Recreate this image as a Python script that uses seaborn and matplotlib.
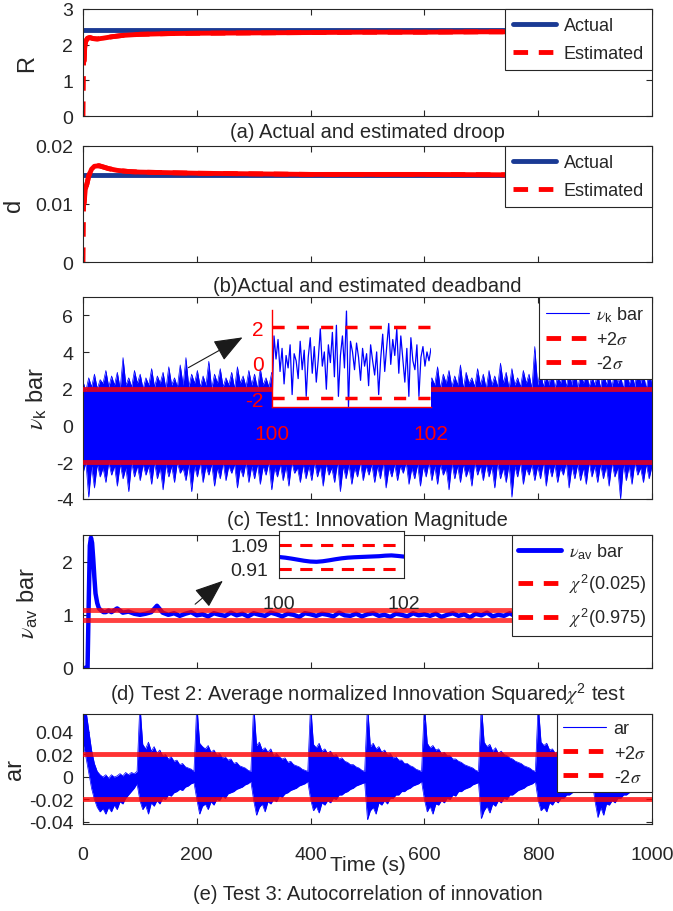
import numpy as np
import matplotlib
matplotlib.use("Agg")
import matplotlib.pyplot as plt
import seaborn as sns
from matplotlib.lines import Line2D

# ---------------- data ----------------
time_ticks = [0, 200, 400, 600, 800, 1000]

# (a) droop
R_actual = 2.4
R_time = [0, 0.5, 1, 2, 3, 5, 8, 12, 18, 25, 35, 50, 70, 100, 150, 200, 300, 400, 500, 600, 700, 800, 900, 1000]
R_est = [0, 0.8, 1.5, 1.55, 1.9, 2.1, 2.18, 2.2, 2.17, 2.16, 2.18, 2.22, 2.26, 2.29, 2.31, 2.32, 2.33, 2.34, 2.35, 2.35, 2.36, 2.36, 2.37, 2.37]

# (b) deadband
d_actual = 0.015
d_time = [0, 0.5, 1, 2, 4, 7, 10, 15, 20, 28, 35, 45, 60, 80, 100, 150, 200, 300, 400, 600, 800, 1000]
d_est = [0, 0.005, 0.0098, 0.0102, 0.0125, 0.0135, 0.0148, 0.016, 0.0165, 0.0166, 0.0164, 0.0161,
         0.0158, 0.0156, 0.0155, 0.0154, 0.0153, 0.0152, 0.0151, 0.0151, 0.015, 0.015]

# (c) innovation magnitude: upper / lower envelope of the dense signal
nu_upper = [2.4, 1.9, 2.6, 2.1, 2.8, 2.0, 2.5, 2.3, 3.0, 2.1, 2.7, 2.2, 2.9, 2.0, 3.7, 2.2, 2.6, 2.1, 3.0, 2.3,
            2.8, 2.0, 2.6, 2.2, 3.1, 2.1, 2.7, 2.3, 2.9, 2.0, 3.2, 2.2, 2.6, 2.1, 3.3, 2.2, 3.7, 2.1, 2.8, 2.3,
            3.0, 2.1, 2.7, 2.2, 3.5, 2.0, 2.8, 2.3, 3.1, 2.1, 2.6, 2.2, 2.9, 2.0, 3.2, 2.3, 2.7, 2.1, 3.0, 2.2,
            2.8, 2.0, 3.1, 2.2, 2.6, 2.1, 2.9, 2.3, 3.3, 2.0, 2.7, 2.2, 3.0, 2.1, 2.8, 2.3, 3.2, 2.0, 2.6, 2.2,
            3.0, 2.1, 2.8, 2.2, 3.1, 2.0, 2.7, 2.3, 2.9, 2.1, 3.2, 2.2, 2.6, 2.0, 3.0, 2.3, 2.8, 2.1, 3.1, 2.2,
            2.7, 2.0, 3.0, 2.2, 2.8, 2.1, 3.3, 2.3, 2.6, 2.0, 2.9, 2.2, 3.1, 2.1, 2.7, 2.3, 3.0, 2.0, 2.8, 2.2,
            2.9, 2.1, 2.6, 2.2, 3.2, 2.0, 2.8, 2.3, 3.0, 2.1, 2.7, 2.2, 3.3, 2.0, 2.9, 2.3, 2.6, 2.1, 3.1, 2.2,
            2.8, 2.0, 3.0, 2.2, 2.7, 2.1, 3.4, 2.3, 2.9, 2.0, 3.1, 2.2, 2.6, 2.1, 3.0, 2.3, 2.8, 2.0, 4.3, 2.2,
            3.0, 2.1, 2.8, 2.2, 3.2, 2.0, 2.7, 2.3, 3.1, 2.1, 2.9, 2.2, 3.3, 2.0, 2.8, 2.3, 3.0, 2.1, 2.7, 2.2,
            2.9, 2.0, 3.1, 2.2, 2.8, 2.1, 3.0, 2.3, 2.7, 2.0, 3.2, 2.2, 2.9, 2.1, 3.4, 2.3, 2.8, 2.0, 3.0, 2.2]
nu_lower = [-2.6, -2.0, -3.9, -2.2, -3.4, -2.1, -2.8, -2.3, -3.1, -2.0, -2.7, -2.2, -3.3, -2.1, -2.9, -2.3, -3.6, -2.0, -2.8, -2.2,
            -3.0, -2.1, -2.7, -2.2, -3.2, -2.0, -2.9, -2.3, -3.5, -2.1, -2.8, -2.2, -3.1, -2.0, -2.6, -2.3, -3.0, -2.1, -3.6, -2.2,
            -2.8, -2.0, -3.1, -2.2, -2.7, -2.1, -3.3, -2.3, -2.9, -2.0, -3.0, -2.2, -2.6, -2.1, -3.4, -2.3, -2.8, -2.0, -3.1, -2.2,
            -2.9, -2.1, -3.2, -2.2, -2.7, -2.0, -3.5, -2.3, -2.8, -2.1, -3.0, -2.2, -3.3, -2.0, -2.6, -2.3, -3.1, -2.1, -2.9, -2.2,
            -3.0, -2.0, -2.8, -2.2, -3.3, -2.1, -2.7, -2.3, -3.1, -2.0, -3.6, -2.2, -2.9, -2.1, -3.2, -2.3, -2.8, -2.0, -3.0, -2.2,
            -2.7, -2.1, -3.1, -2.2, -2.9, -2.0, -3.4, -2.3, -2.8, -2.1, -3.0, -2.2, -2.6, -2.0, -3.2, -2.3, -2.9, -2.1, -3.3, -2.2,
            -2.8, -2.0, -3.0, -2.2, -3.2, -2.1, -2.7, -2.3, -3.5, -2.0, -2.9, -2.2, -3.1, -2.1, -2.8, -2.3, -3.3, -2.0, -2.7, -2.2,
            -3.0, -2.1, -2.8, -2.2, -3.4, -2.0, -2.9, -2.3, -3.1, -2.1, -3.9, -2.2, -2.8, -2.0, -3.2, -2.3, -2.7, -2.1, -3.0, -2.2,
            -2.9, -2.0, -3.3, -2.2, -2.8, -2.1, -3.1, -2.3, -2.7, -2.0, -3.4, -2.2, -2.9, -2.1, -3.0, -2.3, -3.2, -2.0, -2.8, -2.2,
            -3.1, -2.1, -2.9, -2.2, -3.3, -2.0, -2.8, -2.3, -4.0, -2.1, -3.0, -2.2, -3.2, -2.0, -2.7, -2.3, -3.1, -2.1, -2.9, -2.2]
nu_sigma = [2, -2]
nu_zoom = [-2.3, 1.5, 0.2, 1.3, -0.5, 0.8, -1.2, 0.4, -0.3, 1.0, -1.8, 0.5, 0.1, -0.9, 1.2, -0.4, 0.7, -1.9, 0.3, 1.4,
           -0.6, 0.9, -1.1, 0.2, 1.9, -0.2, 0.6, -1.5, 1.0, 0.0, 1.7, -0.8, 2.1, -1.9, 0.4, 1.5, -0.3, 2.9, -2.5, 1.2,
           0.6, -0.4, 1.1, 0.3, -1.0, 0.8, -0.2, 0.5, -1.3, 1.0, 0.1, -0.7, 0.6, -1.8, 0.2, 1.6, -0.5, 0.9, 2.2, -0.1,
           1.3, 0.4, 1.9, -0.6, 1.5, 0.2, -1.1, 0.8, -1.9, 1.4, 0.1, -0.4, 1.0, -1.9, 0.3, 0.9, -0.2, 0.6, 0.1, 0.8]

# (d) averaged NIS
av_time = [0, 4, 8, 10, 12, 14, 16, 18, 20, 22, 25, 28, 32, 36, 40, 45] + list(range(50, 1001, 10))
av_value = [0, 0, 0, 1.2, 2.3, 2.45, 2.35, 2.05, 1.7, 1.4, 1.22, 1.12, 1.08, 1.05, 1.05, 1.08,
            1.05, 1.12, 1.04, 1.06, 1.02, 1.0, 1.02, 1.05, 1.17, 1.04,
            1.0, 1.03, 0.98, 1.02, 1.05, 0.99, 1.01, 0.97, 1.03, 1.0,
            0.98, 1.04, 0.99, 1.02, 0.97, 1.03, 1.0, 0.98, 1.04, 1.01,
            0.97, 1.02, 1.0, 0.96, 1.03, 1.01, 0.98, 1.02, 1.0, 0.97,
            1.04, 0.99, 0.98, 1.02, 0.97, 1.01, 1.03, 0.98, 1.0, 0.96,
            1.02, 1.0, 0.97, 1.03, 0.99, 1.01, 0.98, 1.02, 0.96, 1.0,
            1.03, 0.98, 1.01, 0.95, 1.02, 0.99, 1.04, 0.97, 1.0, 0.98,
            1.03, 0.97, 1.01, 0.99, 0.96, 1.02, 1.0, 0.97, 1.03, 0.99,
            1.01, 0.98, 1.02, 1.0, 0.97, 1.03, 0.99, 1.01, 0.98, 1.02,
            1.0, 0.97, 1.02, 0.99, 1.01, 1.0]
av_bounds = [1.09, 0.91]
av_zoom = [1.0, 0.995, 0.988, 0.98, 0.972, 0.966, 0.964, 0.968, 0.975, 0.983, 0.99,
           0.995, 0.998, 1.0, 1.002, 1.004, 1.006, 1.01, 1.012, 1.008, 1.003]

# (e) autocorrelation: envelope, 20 samples per 100 s run
ar_upper = [0.065, 0.060, 0.042, 0.024, 0.012, 0.005, 0.002, 0.000, 0.002, -0.001, 0.002, 0.000, 0.001, 0.003, 0.001, 0.004, 0.002, 0.004, 0.003, 0.005,
            0.065, 0.029, 0.025, 0.031, 0.023, 0.027, 0.021, 0.024, 0.019, 0.020, 0.016, 0.018, 0.014, 0.015, 0.011, 0.012, 0.009, 0.008, 0.007, 0.005,
            0.065, 0.030, 0.027, 0.025, 0.028, 0.022, 0.024, 0.020, 0.021, 0.017, 0.018, 0.015, 0.016, 0.012, 0.013, 0.010, 0.009, 0.008, 0.006, 0.005,
            0.065, 0.028, 0.031, 0.024, 0.026, 0.022, 0.025, 0.019, 0.021, 0.018, 0.016, 0.017, 0.013, 0.014, 0.011, 0.010, 0.009, 0.007, 0.006, 0.005,
            0.065, 0.029, 0.026, 0.030, 0.023, 0.025, 0.021, 0.023, 0.019, 0.020, 0.016, 0.017, 0.014, 0.013, 0.011, 0.011, 0.009, 0.008, 0.006, 0.005,
            0.065, 0.027, 0.030, 0.025, 0.027, 0.022, 0.024, 0.020, 0.021, 0.017, 0.018, 0.015, 0.015, 0.012, 0.012, 0.010, 0.009, 0.007, 0.006, 0.005,
            0.065, 0.030, 0.026, 0.028, 0.024, 0.025, 0.021, 0.022, 0.019, 0.019, 0.016, 0.016, 0.014, 0.013, 0.011, 0.010, 0.009, 0.008, 0.006, 0.005,
            0.065, 0.031, 0.027, 0.029, 0.023, 0.026, 0.021, 0.023, 0.020, 0.019, 0.017, 0.016, 0.014, 0.013, 0.012, 0.010, 0.009, 0.008, 0.006, 0.005,
            0.065, 0.031, 0.028, 0.030, 0.024, 0.025, 0.021, 0.023, 0.019, 0.020, 0.016, 0.016, 0.014, 0.013, 0.011, 0.010, 0.009, 0.007, 0.006, 0.005,
            0.065, 0.029, 0.026, 0.029, 0.023, 0.025, 0.021, 0.022, 0.019, 0.019, 0.016, 0.016, 0.013, 0.013, 0.011, 0.010, 0.009, 0.007, 0.006, 0.005]
ar_lower = [0.030, 0.018, 0.004, -0.010, -0.020, -0.027, -0.031, -0.028, -0.033, -0.027, -0.031, -0.025, -0.029, -0.022, -0.024, -0.019, -0.016, -0.013, -0.010, -0.006,
            -0.021, -0.029, -0.025, -0.033, -0.023, -0.026, -0.021, -0.024, -0.019, -0.020, -0.016, -0.017, -0.014, -0.013, -0.011, -0.012, -0.009, -0.008, -0.006, -0.005,
            -0.020, -0.033, -0.026, -0.024, -0.029, -0.022, -0.025, -0.020, -0.021, -0.017, -0.019, -0.015, -0.014, -0.013, -0.011, -0.010, -0.009, -0.007, -0.006, -0.004,
            -0.021, -0.034, -0.027, -0.024, -0.031, -0.022, -0.024, -0.020, -0.022, -0.017, -0.018, -0.015, -0.014, -0.012, -0.011, -0.010, -0.008, -0.007, -0.006, -0.004,
            -0.020, -0.030, -0.026, -0.032, -0.023, -0.025, -0.021, -0.023, -0.019, -0.020, -0.016, -0.016, -0.014, -0.013, -0.011, -0.010, -0.008, -0.007, -0.006, -0.005,
            -0.038, -0.030, -0.027, -0.033, -0.023, -0.025, -0.021, -0.024, -0.019, -0.019, -0.016, -0.016, -0.013, -0.013, -0.011, -0.010, -0.008, -0.007, -0.006, -0.004,
            -0.020, -0.031, -0.026, -0.033, -0.024, -0.025, -0.021, -0.023, -0.019, -0.020, -0.016, -0.017, -0.013, -0.013, -0.011, -0.010, -0.009, -0.007, -0.006, -0.005,
            -0.037, -0.030, -0.026, -0.032, -0.024, -0.026, -0.021, -0.023, -0.019, -0.020, -0.016, -0.016, -0.014, -0.012, -0.011, -0.010, -0.008, -0.007, -0.006, -0.004,
            -0.021, -0.030, -0.027, -0.031, -0.023, -0.025, -0.021, -0.023, -0.019, -0.019, -0.016, -0.016, -0.014, -0.013, -0.011, -0.010, -0.008, -0.007, -0.006, -0.005,
            -0.022, -0.036, -0.027, -0.034, -0.024, -0.025, -0.021, -0.023, -0.019, -0.019, -0.016, -0.016, -0.014, -0.012, -0.011, -0.010, -0.008, -0.007, -0.006, -0.004]
ar_bounds = [0.02, -0.02]

captions = ["(a) Actual and estimated droop",
            "(b)Actual and estimated deadband",
            "(c) Test1: Innovation Magnitude",
            r"(d) Test 2: Average normalized Innovation Squared$\chi^2$ test",
            "(e) Test 3: Autocorrelation of innovation"]

# ---------------- style ----------------
sns.set_theme(style="white")
plt.rcParams["font.family"] = ["Liberation Sans", "DejaVu Sans"]
plt.rcParams["mathtext.fontset"] = "custom"
plt.rcParams["mathtext.rm"] = "Liberation Sans"
plt.rcParams["mathtext.sf"] = "Liberation Sans"
plt.rcParams["mathtext.it"] = "STIXGeneral:italic"
plt.rcParams["mathtext.bf"] = "Liberation Sans:bold"
plt.rcParams["axes.unicode_minus"] = False

BLUE = "#0000ff"
NAVY = "#1a3a94"
RED = "#ff0000"
INK = "#262626"
W, H = 673, 912

fig = plt.figure(figsize=(W / 100, H / 100), dpi=100)


def rect(l, t, r, b):
    return [l / W, 1 - b / H, (r - l) / W, (b - t) / H]


def style(ax, show_x=False):
    for s in ax.spines.values():
        s.set_visible(True)
        s.set_color(INK)
        s.set_linewidth(0.8)
    ax.tick_params(direction="in", length=4, width=0.8, colors=INK, labelsize=14,
                   pad=7, top=True, right=True, bottom=True, left=True)
    ax.set_xlim(0, 1000)
    ax.set_xticks(time_ticks)
    if show_x:
        ax.set_xticklabels([str(v) for v in time_ticks])
        ax.tick_params(axis="x", pad=16)
    else:
        ax.set_xticklabels([])


def line(ax, x, y, **kw):
    sns.lineplot(x=np.asarray(x, dtype=float), y=np.asarray(y, dtype=float), ax=ax,
                 estimator=None, sort=False, errorbar=None, legend=False, **kw)


def legend(ax, handles, labels, spacing=0.45, pad=0.35):
    leg = ax.legend(handles, labels, loc="upper right", borderaxespad=0, frameon=True,
                    fancybox=False, framealpha=1, edgecolor=INK, fontsize=13,
                    handlelength=2.4, handletextpad=0.4, borderpad=pad,
                    labelspacing=spacing)
    leg.get_frame().set_linewidth(0.8)
    leg.set_zorder(20)


dash_h = Line2D([], [], color=RED, lw=3.5, dashes=(3, 2.2))


def ylabel(ax, text, right_px, size=17):
    ax.set_ylabel(text, fontsize=size, color=INK)
    ax.yaxis.set_label_coords((right_px - 83) / 569, 0.5)


# (a)
ax_a = fig.add_axes(rect(83, 10, 652, 117))
line(ax_a, [0, 1000], [R_actual, R_actual], color=NAVY, lw=3.5)
line(ax_a, R_time, R_est, color=RED, lw=3.5, dashes=(3, 2.2))
line(ax_a, R_time[3:], R_est[3:], color=RED, lw=3.5)
style(ax_a)
ax_a.set_ylim(0, 3)
ax_a.set_yticks([0, 1, 2, 3])
ax_a.set_yticklabels(["0", "1", "2", "3"])
ylabel(ax_a, "R", 38)
legend(ax_a, [Line2D([], [], color=NAVY, lw=3.5), dash_h], ["Actual", "Estimated"],
       spacing=0.6, pad=0.45)

# (b)
ax_b = fig.add_axes(rect(83, 147, 652, 263))
line(ax_b, [0, 1000], [d_actual, d_actual], color=NAVY, lw=3.5)
line(ax_b, d_time, d_est, color=RED, lw=3.5, dashes=(3, 2.2))
line(ax_b, d_time[3:], d_est[3:], color=RED, lw=3.5)
style(ax_b)
ax_b.set_ylim(0, 0.02)
ax_b.set_yticks([0, 0.01, 0.02])
ax_b.set_yticklabels(["0", "0.01", "0.02"])
ylabel(ax_b, "d", 25)
legend(ax_b, [Line2D([], [], color=NAVY, lw=3.5), dash_h], ["Actual", "Estimated"],
       spacing=0.6, pad=0.45)

# (c)
ax_c = fig.add_axes(rect(83, 298, 652, 500))
t_nu = np.linspace(0, 1000, len(nu_upper))
ax_c.fill_between(t_nu, nu_lower, nu_upper, color=BLUE, lw=0)
line(ax_c, t_nu, nu_upper, color=BLUE, lw=0.5)
line(ax_c, t_nu, nu_lower, color=BLUE, lw=0.5)
for v in nu_sigma:
    ax_c.axhline(v, color=RED, lw=3.5, alpha=0.8, zorder=5)
style(ax_c)
ax_c.set_ylim(-4, 7)
ax_c.set_yticks([-4, -2, 0, 2, 4, 6])
ax_c.set_yticklabels(["-4", "-2", "0", "2", "4", "6"])
ylabel(ax_c, r"$\nu_{\rm k}$ bar", 49)
legend(ax_c, [Line2D([], [], color=BLUE, lw=0.8), dash_h, dash_h],
       [r"$\nu_{\rm k}$ bar", r"+2$\sigma$", r"-2$\sigma$"], spacing=0.4, pad=0.4)

ax_ci = fig.add_axes(rect(272, 311, 431, 408))
ax_ci.set_facecolor("white")
line(ax_ci, np.linspace(100, 102, len(nu_zoom)), nu_zoom, color=BLUE, lw=0.9)
for v in nu_sigma:
    ax_ci.axhline(v, color=RED, lw=2.5, dashes=(3.5, 3.5))
ax_ci.set_xlim(100, 102)
ax_ci.set_ylim(-2.5, 2.96)
for s in ["top", "right"]:
    ax_ci.spines[s].set_visible(False)
for s in ["left", "bottom"]:
    ax_ci.spines[s].set_visible(True)
    ax_ci.spines[s].set_color(RED)
    ax_ci.spines[s].set_linewidth(1.0)
ax_ci.set_yticks([-2, 0, 2])
ax_ci.set_yticklabels(["-2", "0", "2"])
ax_ci.set_xticks([100, 102])
ax_ci.set_xticklabels(["100", "102"])
ax_ci.tick_params(length=0, labelsize=15, labelcolor=RED)
ax_ci.tick_params(axis="y", pad=6)
ax_ci.tick_params(axis="x", pad=12)

# (d)
ax_d = fig.add_axes(rect(83, 536, 652, 669))
line(ax_d, av_time, av_value, color=BLUE, lw=3.2)
for v in av_bounds:
    ax_d.axhline(v, color=RED, lw=3.5, alpha=0.75, zorder=5)
style(ax_d)
ax_d.set_ylim(0, 2.5)
ax_d.set_yticks([0, 1, 2])
ax_d.set_yticklabels(["0", "1", "2"])
ylabel(ax_d, r"$\nu_{\rm av}$ bar", 40)
legend(ax_d, [Line2D([], [], color=BLUE, lw=3.5), dash_h, dash_h],
       [r"$\nu_{\rm av}$ bar", r"$\chi^2$(0.025)", r"$\chi^2$(0.975)"], spacing=0.6)

ax_di = fig.add_axes(rect(279, 532, 404, 579))
ax_di.set_facecolor("white")
line(ax_di, np.linspace(100, 102, len(av_zoom)), av_zoom, color=BLUE, lw=3)
for v in av_bounds:
    ax_di.axhline(v, color=RED, lw=2.2, dashes=(4, 2.8))
ax_di.set_xlim(100, 102)
ax_di.set_ylim(0.8425, 1.195)
for s in ax_di.spines.values():
    s.set_visible(True)
    s.set_color(INK)
    s.set_linewidth(0.8)
ax_di.set_yticks([0.91, 1.09])
ax_di.set_yticklabels(["0.91", "1.09"])
ax_di.set_xticks([100, 102])
ax_di.set_xticklabels(["100", "102"])
ax_di.tick_params(length=0, labelsize=14, labelcolor=INK)
ax_di.tick_params(axis="y", pad=8)
ax_di.tick_params(axis="x", pad=12)

# (e)
ax_e = fig.add_axes(rect(83, 715, 652, 825))
t_ar = np.arange(len(ar_upper)) * 5.0
ax_e.fill_between(t_ar, ar_lower, ar_upper, color=BLUE, lw=0)
line(ax_e, t_ar, ar_upper, color=BLUE, lw=0.5)
line(ax_e, t_ar, ar_lower, color=BLUE, lw=0.5)
for v in ar_bounds:
    ax_e.axhline(v, color=RED, lw=3.5, alpha=0.8, zorder=5)
style(ax_e, show_x=True)
ax_e.set_ylim(-0.0418, 0.056)
ax_e.set_yticks([-0.04, -0.02, 0, 0.02, 0.04])
ax_e.set_yticklabels(["-0.04", "-0.02", "0", "0.02", "0.04"])
ylabel(ax_e, "ar", 26)
ax_e.set_xlabel("Time (s)", fontsize=15, color=INK)
ax_e.xaxis.set_label_coords(0.5, (825 - 856) / 110)
legend(ax_e, [Line2D([], [], color=BLUE, lw=0.8), dash_h, dash_h],
       ["ar", r"+2$\sigma$", r"-2$\sigma$"], spacing=0.4)

# arrows
for tail, head in [((186, 370), (245, 337)), ((193, 607), (225, 580))]:
    fig.add_artist(matplotlib.patches.FancyArrowPatch(
        (tail[0] / W, 1 - tail[1] / H), (head[0] / W, 1 - head[1] / H),
        transform=fig.transFigure, arrowstyle="-|>,head_length=0.9,head_width=0.35",
        mutation_scale=20, color="k", lw=0.8, zorder=30))

# captions
for y_px, text in zip([132, 286, 520, 694, 895], captions):
    fig.text(367.5 / W, 1 - y_px / H, text, ha="center", va="center", fontsize=14.5, color=INK)

fig.savefig("out.png", dpi=100)
